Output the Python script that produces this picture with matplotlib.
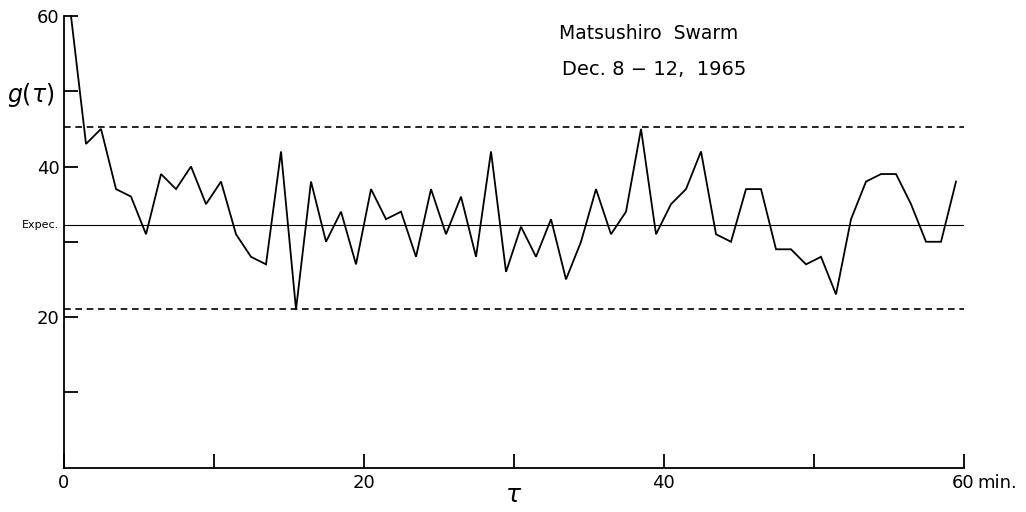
import numpy as np
import matplotlib
matplotlib.use("Agg")
import matplotlib.pyplot as plt

# lag tau (min), centred in each one-minute bin
tau = np.arange(60) + 0.5
# g(tau) for the Matsushiro swarm, Dec. 8-12, 1965
g = [60, 43, 45, 37, 36, 31, 39, 37, 40, 35,
     38, 31, 28, 27, 42, 21, 38, 30, 34, 27,
     37, 33, 34, 28, 37, 31, 36, 28, 42, 26,
     32, 28, 33, 25, 30, 37, 31, 34, 45, 31,
     35, 37, 42, 31, 30, 37, 37, 29, 29, 27,
     28, 23, 33, 38, 39, 39, 35, 30, 30, 38]

expected = 32.2
upper_limit = 45.2
lower_limit = 21.0

x_ticks = [0, 10, 20, 30, 40, 50, 60]
x_labels = ["0", "", "20", "", "40", "", "60"]
y_ticks = [10, 20, 30, 40, 50, 60]
y_labels = ["", "20", "", "40", "", "60"]

fig = plt.figure(figsize=(10.26, 5.12), dpi=100)
ax = fig.add_axes([0.0619, 0.0869, 0.8772, 0.8818])
ax.set_xlim(0, 60)
ax.set_ylim(0, 60)

ax.plot(tau, g, color="black", lw=1.3, clip_on=False, solid_joinstyle="miter")
ax.axhline(expected, color="black", lw=0.8)
for lvl in (upper_limit, lower_limit):
    ax.axhline(lvl, color="black", lw=1.2, dashes=(4, 2.8))

for side in ("top", "right"):
    ax.spines[side].set_visible(False)
for side in ("left", "bottom"):
    ax.spines[side].set_linewidth(1.3)

ax.set_xticks(x_ticks)
ax.set_xticklabels(x_labels)
ax.set_yticks(y_ticks)
ax.set_yticklabels(y_labels)
ax.tick_params(axis="both", direction="in", length=10, width=1.3,
               labelsize=13, colors="black")
ax.tick_params(axis="x", pad=5)
ax.tick_params(axis="y", pad=3)

ax.text(60.9, -0.8, "min.", fontsize=13, ha="left", va="top")
ax.set_xlabel(r"$\tau$", fontsize=18, labelpad=-7)

ax.text(-0.3, expected, "Expec.", fontsize=8, ha="right", va="center")
fig.text(0.030, 0.815, r"$g(\tau)$", fontsize=17, ha="center", va="center")

fig.text(0.632, 0.935, "Matsushiro  Swarm", fontsize=13.5, ha="center",
         va="center")
fig.text(0.638, 0.865, "Dec. 8 \u2212 12,  1965", fontsize=14, ha="center",
         va="center")

fig.savefig("out.png", dpi=100)
